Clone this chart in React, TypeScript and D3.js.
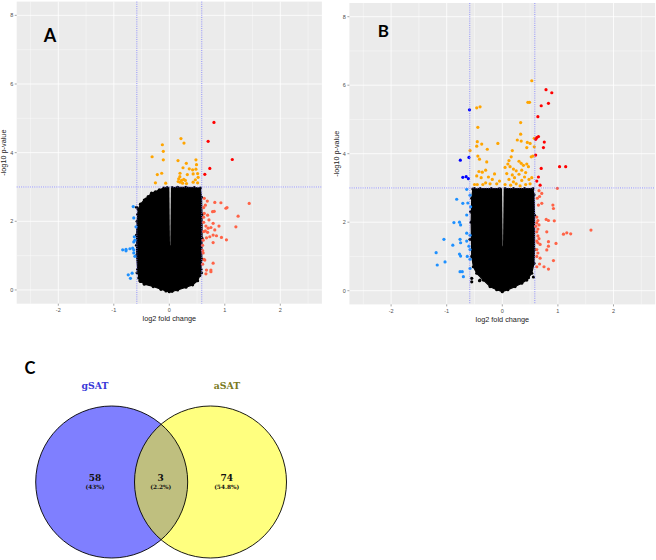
import React from "react";
import * as d3 from "d3";

type P = [number, number];

// ---------- axis ticks ----------
const xTicks = [-2, -1, 0, 1, 2];
const yTicks = [0, 2, 4, 6, 8];
const xMinor = [-2.5, -1.5, -0.5, 0.5, 1.5, 2.5];
const yMinor = [1, 3, 5, 7];
const fcCut = 0.585;
const pCut = 3;

// ---------- Panel A ----------
const aRed: P[] = [[0.805, 4.88], [0.70, 4.33], [1.135, 3.80], [0.73, 3.54], [0.64, 3.37]];
const aOrange: P[] = [
  [0.21, 4.41], [0.265, 4.28], [-0.125, 4.23], [-0.108, 4.04], [-0.31, 3.88], [-0.108, 3.79],
  [0.157, 3.77], [0.48, 3.79], [0.307, 3.69], [0.49, 3.65], [0.247, 3.56], [0.42, 3.50],
  [0.48, 3.52], [-0.137, 3.40], [-0.216, 3.36], [0.193, 3.40], [0.325, 3.36], [0.43, 3.38],
  [0.51, 3.39], [0.169, 3.24], [0.22, 3.19], [0.29, 3.19], [0.43, 3.14], [0.51, 3.12],
  [-0.25, 3.12], [-0.065, 3.11], [0.193, 3.14], [0.47, 3.21], [0.31, 3.10], [0.24, 3.11],
  [0.16, 3.16], [0.26, 3.22], [0.52, 3.28], [0.19, 3.30], [0.36, 3.53],
];
const aTomato: P[] = [
  [0.63, 2.67], [0.685, 2.59], [0.82, 2.55], [0.93, 2.54], [1.44, 2.52], [0.65, 2.47],
  [0.62, 2.40], [1.02, 2.38], [1.04, 2.40], [0.78, 2.28], [0.81, 2.29], [0.63, 2.23],
  [1.24, 2.15], [0.69, 2.18], [0.62, 2.12], [0.715, 2.04], [0.62, 1.97], [0.79, 1.94],
  [0.895, 1.86], [1.20, 1.84], [0.66, 1.86], [0.70, 1.80], [0.75, 1.82], [0.82, 1.75],
  [0.65, 1.72], [0.69, 1.68], [0.79, 1.60], [0.85, 1.58], [0.94, 1.53], [1.03, 1.46],
  [0.73, 1.55], [0.67, 1.52], [0.61, 1.45], [0.79, 1.38], [0.60, 1.30], [0.60, 1.15],
  [0.61, 1.08], [0.625, 0.89], [0.79, 0.78], [0.67, 0.58], [0.75, 0.58], [0.75, 0.53],
  [0.66, 0.47], [0.60, 0.75], [0.62, 1.70], [0.64, 0.87],
];
const aBlue: P[] = [
  [-0.65, 2.43], [-0.64, 2.10], [-0.60, 1.84], [-0.63, 1.55], [-0.62, 1.45], [-0.64, 1.40],
  [-0.84, 1.17], [-0.78, 1.18], [-0.78, 1.14], [-0.71, 1.20], [-0.66, 1.22], [-0.64, 1.17],
  [-0.64, 1.08], [-0.62, 0.98], [-0.74, 0.44], [-0.67, 0.49], [-0.70, 0.34],
];
const aDarkBlue: P[] = [];
// outline of the dense black cloud of non-significant genes
const aCloud: P[] = [
  [-0.56, 2.35], [-0.52, 2.5], [-0.45, 2.62], [-0.38, 2.72], [-0.32, 2.82], [-0.25, 2.86],
  [-0.18, 2.92], [-0.1, 2.97], [-0.04, 2.98], [0.0, 2.96], [0.05, 2.98], [0.15, 2.99],
  [0.3, 2.99], [0.45, 2.98], [0.56, 2.97], [0.58, 2.7], [0.59, 2.2], [0.59, 1.5],
  [0.585, 0.9], [0.57, 0.6], [0.55, 0.42], [0.51, 0.27], [0.42, 0.15], [0.3, 0.08],
  [0.15, 0.0], [0.05, -0.04], [0.0, -0.05], [-0.06, -0.03], [-0.15, 0.02], [-0.29, 0.1],
  [-0.45, 0.17], [-0.52, 0.25], [-0.55, 0.35], [-0.57, 0.6], [-0.59, 1.0], [-0.59, 1.6],
  [-0.58, 2.0], [-0.57, 2.2],
];
const aEdge: P[] = [
  [-0.59, 2.41], [-0.42, 2.65], [-0.41, 2.57], [-0.29, 2.77], [-0.11, 2.89], [-0.53, 0.27],
  [-0.5, 0.32], [0.32, 0.17], [0.40, 0.24], [-0.58, 0.5], [-0.59, 1.3], [0.58, 0.5],
];
const aSlit = { c: 0.015, w: 0.014, bottom: 1.3 };

// ---------- Panel B ----------
const bRed: P[] = [
  [0.786, 5.87], [0.89, 5.78], [0.83, 5.47], [0.70, 5.40], [0.64, 5.08], [0.65, 4.50],
  [0.62, 4.47], [0.60, 4.42], [0.755, 4.34], [0.74, 4.18], [0.60, 3.96], [0.70, 3.57],
  [1.03, 3.62], [1.14, 3.62], [0.65, 3.32], [0.62, 3.20], [0.68, 3.08],
];
const bDarkBlue: P[] = [[-0.59, 5.28], [-0.60, 3.89], [-0.755, 3.81], [-0.71, 3.31], [-0.65, 3.33], [-0.61, 3.27]];
const bOrange: P[] = [
  [0.53, 6.13], [0.46, 5.50], [0.49, 5.50], [-0.46, 5.34], [-0.40, 5.37], [0.33, 4.91],
  [-0.44, 4.77], [0.33, 4.57], [0.27, 4.40], [0.34, 4.37], [0.45, 4.33], [0.575, 4.45],
  [0.50, 4.30], [-0.45, 4.35], [-0.37, 4.28], [-0.46, 4.22], [-0.08, 4.30], [0.44, 4.18],
  [-0.27, 4.13], [0.18, 4.09], [0.575, 4.20], [0.55, 3.93], [0.52, 3.91], [-0.58, 4.09],
  [-0.44, 3.93], [-0.41, 3.84], [-0.28, 3.76], [0.16, 3.91], [0.12, 3.80], [0.10, 3.70],
  [0.05, 3.60], [0.14, 3.62], [0.20, 3.55], [0.30, 3.78], [0.34, 3.72], [0.38, 3.66],
  [0.44, 3.70], [0.47, 3.62], [0.25, 3.50], [0.35, 3.52], [0.42, 3.45], [0.30, 3.40],
  [0.40, 3.32], [0.18, 3.38], [0.08, 3.42], [0.22, 3.30], [0.12, 3.25], [0.35, 3.22],
  [0.48, 3.25], [0.53, 3.30], [-0.14, 3.41], [-0.42, 3.48], [-0.36, 3.46], [-0.30, 3.52],
  [-0.46, 3.35], [-0.38, 3.30], [-0.25, 3.32], [-0.18, 3.25], [-0.50, 3.10], [-0.45, 3.10],
  [-0.30, 3.15], [-0.22, 3.12], [-0.10, 3.12], [-0.05, 3.20], [0.05, 3.10], [0.15, 3.08],
  [0.25, 3.12], [0.32, 3.06], [0.42, 3.10], [0.50, 3.12], [0.20, 3.18], [-0.35, 3.10],
];
const bTomato: P[] = [
  [0.99, 2.99], [0.71, 2.84], [0.66, 2.92], [0.63, 2.70], [0.67, 2.75], [0.71, 2.55],
  [0.65, 2.50], [0.91, 2.50], [0.92, 2.40], [0.62, 2.15], [0.64, 2.05], [0.62, 1.98],
  [0.66, 1.92], [0.60, 1.88], [0.64, 1.80], [0.62, 1.72], [0.79, 2.08], [0.83, 2.05],
  [0.935, 2.04], [0.80, 1.72], [1.10, 1.65], [1.16, 1.69], [1.23, 1.66], [1.595, 1.77],
  [0.64, 1.60], [0.66, 1.52], [0.62, 1.45], [0.64, 1.40], [0.68, 1.35], [0.83, 1.43],
  [0.83, 1.30], [0.966, 1.38], [0.80, 1.19], [0.62, 1.20], [0.64, 1.10], [0.62, 1.00],
  [0.68, 0.95], [0.92, 0.88], [0.67, 0.78], [0.62, 0.70], [0.75, 0.70], [0.83, 0.63],
];
const bBlue: P[] = [
  [-0.64, 2.96], [-0.58, 2.79], [-0.82, 2.67], [-0.71, 2.55], [-0.62, 2.56], [-0.57, 2.45],
  [-0.64, 2.21], [-0.87, 1.99], [-0.77, 2.00], [-0.75, 1.92], [-0.64, 1.68], [-0.58, 1.62],
  [-1.05, 1.50], [-0.76, 1.50], [-0.75, 1.40], [-0.64, 1.45], [-0.89, 1.33], [-0.60, 1.30],
  [-0.58, 1.20], [-1.19, 1.11], [-0.77, 1.07], [-0.75, 1.01], [-0.63, 1.00], [-0.58, 0.92],
  [-1.03, 0.84], [-1.17, 0.75], [-0.58, 0.65], [-0.76, 0.555], [-0.72, 0.555], [-0.70, 0.41],
];
const bCloud: P[] = [
  [-0.53, 2.97], [-0.4, 2.98], [-0.2, 2.98], [-0.05, 2.98], [0.0, 2.96], [0.05, 2.98],
  [0.2, 2.98], [0.4, 2.98], [0.55, 2.98], [0.57, 2.8], [0.58, 2.2], [0.58, 1.2],
  [0.57, 0.8], [0.53, 0.51], [0.47, 0.38], [0.44, 0.31], [0.35, 0.22], [0.23, 0.12],
  [0.1, 0.03], [0.0, -0.03], [-0.1, 0.03], [-0.22, 0.12], [-0.34, 0.31], [-0.46, 0.51],
  [-0.52, 0.7], [-0.55, 1.0], [-0.56, 2.0], [-0.55, 2.7],
];
const bEdge: P[] = [
  [-0.55, 0.26], [-0.41, 0.29], [-0.55, 0.36], [-0.40, 0.31], [0.44, 0.36], [-0.58, 1.5],
  [-0.57, 2.3], [0.56, 0.4], [-0.5, 2.98], [0.3, 0.22],
];
const bSlit = { c: 0.01, w: 0.014, bottom: 1.3 };

// ---------- Venn ----------
const vennSets = ["gSAT", "aSAT"];
const vennCounts = ["58", "3", "74"];
const vennPercents = ["(43%)", "(2.2%)", "(54.8%)"];

const COLORS = {
  red: "#ff0000",
  orange: "#ffa500",
  tomato: "#ff6347",
  blue: "#1e90ff",
  darkBlue: "#0000ff",
};

type PanelProps = {
  x0: number; x1: number; yb: number; yt: number;
  red: P[]; orange: P[]; tomato: P[]; blue: P[]; darkBlue: P[];
  cloud: P[]; edge: P[]; slit: { c: number; w: number; bottom: number };
  letter: string; letterX: number; letterY: number; letterSize: number;
  yLabelX: number;
};

function Volcano(p: PanelProps) {
  const x = d3.scaleLinear().domain([-2.75, 2.75]).range([p.x0, p.x1]);
  const y = d3.scaleLinear().domain([-0.4, 8.4]).range([p.yb, p.yt]);
  const line = d3.line<P>().x((d) => x(d[0])).y((d) => y(d[1])).curve(d3.curveLinearClosed);
  const slitPoly: P[] = [
    [p.slit.c - p.slit.w, 3.0], [p.slit.c + p.slit.w, 3.0],
    [p.slit.c + 0.002, p.slit.bottom], [p.slit.c - 0.002, p.slit.bottom],
  ];
  const r = 1.6;
  const dots = (arr: P[], fill: string, key: string) =>
    arr.map((d, i) => <circle key={key + i} cx={x(d[0])} cy={y(d[1])} r={r} fill={fill} />);
  const tickFont = { fontFamily: "Liberation Sans, Arial, sans-serif", fontSize: 5.5, fill: "#4d4d4d" };
  return (
    <g>
      <rect x={p.x0} y={p.yt} width={p.x1 - p.x0} height={p.yb - p.yt} fill="#ebebeb" />
      {xMinor.map((v) => (
        <line key={"xm" + v} x1={x(v)} x2={x(v)} y1={p.yt} y2={p.yb} stroke="#fff" strokeWidth={0.4} />
      ))}
      {yMinor.map((v) => (
        <line key={"ym" + v} x1={p.x0} x2={p.x1} y1={y(v)} y2={y(v)} stroke="#fff" strokeWidth={0.4} />
      ))}
      {xTicks.map((v) => (
        <line key={"xM" + v} x1={x(v)} x2={x(v)} y1={p.yt} y2={p.yb} stroke="#fff" strokeWidth={0.8} />
      ))}
      {yTicks.map((v) => (
        <line key={"yM" + v} x1={p.x0} x2={p.x1} y1={y(v)} y2={y(v)} stroke="#fff" strokeWidth={0.8} />
      ))}
      {/* black cloud */}
      <path d={line(p.cloud) || ""} fill="#000" stroke="#000" strokeWidth={1.2} strokeLinejoin="round" />
      {dots(p.cloud, "#000", "cv")}
      {dots(p.edge, "#000", "ed")}
      <path d={line(slitPoly) || ""} fill="#e6e6e6" />
      {dots(p.tomato, COLORS.tomato, "t")}
      {dots(p.blue, COLORS.blue, "b")}
      {dots(p.orange, COLORS.orange, "o")}
      {dots(p.red, COLORS.red, "r")}
      {dots(p.darkBlue, COLORS.darkBlue, "db")}
      {/* thresholds */}
      {[-fcCut, fcCut].map((v) => (
        <line key={"v" + v} x1={x(v)} x2={x(v)} y1={p.yt} y2={p.yb} stroke="#7a7aff" strokeWidth={0.8} strokeDasharray="1,1.2" />
      ))}
      <line x1={p.x0} x2={p.x1} y1={y(pCut)} y2={y(pCut)} stroke="#7a7aff" strokeWidth={0.8} strokeDasharray="1,1.2" />
      {/* axes ticks */}
      {xTicks.map((v) => (
        <g key={"xt" + v}>
          <line x1={x(v)} x2={x(v)} y1={p.yb} y2={p.yb + 2} stroke="#4d4d4d" strokeWidth={0.5} />
          <text x={x(v)} y={p.yb + 8.5} textAnchor="middle" {...tickFont}>{v}</text>
        </g>
      ))}
      {yTicks.map((v) => (
        <g key={"yt" + v}>
          <line x1={p.x0 - 2} x2={p.x0} y1={y(v)} y2={y(v)} stroke="#4d4d4d" strokeWidth={0.5} />
          <text x={p.x0 - 3.5} y={y(v) + 2} textAnchor="end" {...tickFont}>{v}</text>
        </g>
      ))}
      <text x={(p.x0 + p.x1) / 2} y={p.yb + 17.5} textAnchor="middle"
        style={{ fontFamily: "Liberation Sans, Arial, sans-serif", fontSize: 7.3, fill: "#222" }}>
        log2 fold change
      </text>
      <text transform={`translate(${p.yLabelX},${(p.yt + p.yb) / 2}) rotate(-90)`} textAnchor="middle"
        style={{ fontFamily: "Liberation Sans, Arial, sans-serif", fontSize: 7.3, fill: "#222" }}>
        -log10  p-value
      </text>
      <text x={p.letterX} y={p.letterY} textAnchor="middle"
        style={{ fontFamily: "Lato, Open Sans, sans-serif", fontWeight: 700, fontSize: p.letterSize, fill: "#000" }}>
        {p.letter}
      </text>
    </g>
  );
}

function Venn() {
  const cy = 482;
  const r = 76;
  const cxs = [111.7, 210.5];
  const fills = ["#0000ff", "#ffff00"];
  const textCx = [95, 160.7, 226.7];
  return (
    <g>
      <text x={30} y={373.5} textAnchor="middle"
        style={{ fontFamily: "Lato, Open Sans, sans-serif", fontWeight: 700, fontSize: 16.5, fill: "#000" }}>C</text>
      <circle cx={cxs[0]} cy={cy} r={r} fill={fills[0]} fillOpacity={0.5} />
      <circle cx={cxs[1]} cy={cy} r={r} fill={fills[1]} fillOpacity={0.5} />
      <circle cx={cxs[0]} cy={cy} r={r} fill="none" stroke="#000" strokeWidth={0.9} />
      <circle cx={cxs[1]} cy={cy} r={r} fill="none" stroke="#000" strokeWidth={0.9} />
      <text x={95} y={388.5} textAnchor="middle"
        style={{ fontFamily: "DejaVu Serif, serif", fontWeight: 700, fontSize: 9.3, fill: "#3838d8" }}>{vennSets[0]}</text>
      <text x={227} y={388.5} textAnchor="middle"
        style={{ fontFamily: "DejaVu Serif, serif", fontWeight: 700, fontSize: 9.3, fill: "#7a7a1e" }}>{vennSets[1]}</text>
      {vennCounts.map((c, i) => (
        <g key={"vc" + i}>
          <text x={textCx[i]} y={481} textAnchor="middle"
            style={{ fontFamily: "DejaVu Serif, serif", fontWeight: 700, fontSize: 9, fill: "#111" }}>{c}</text>
          <text x={textCx[i]} y={488.5} textAnchor="middle"
            style={{ fontFamily: "DejaVu Serif, serif", fontWeight: 700, fontSize: 5.8, fill: "#111" }}>{vennPercents[i]}</text>
        </g>
      ))}
    </g>
  );
}

export default function App() {
  return (
    <svg width={656} height={560} style={{ position: "absolute", left: 0, top: 0, background: "#fff" }}>
      <rect width={656} height={560} fill="#fff" />
      <Volcano x0={16.7} x1={321.9} yb={303.7} yt={1.6}
        red={aRed} orange={aOrange} tomato={aTomato} blue={aBlue} darkBlue={aDarkBlue}
        cloud={aCloud} edge={aEdge} slit={aSlit}
        letter="A" letterX={50} letterY={41.5} letterSize={18} yLabelX={6} />
      <Volcano x0={349.4} x1={655.2} yb={304.4} yt={3.0}
        red={bRed} orange={bOrange} tomato={bTomato} blue={bBlue} darkBlue={bDarkBlue}
        cloud={bCloud} edge={bEdge} slit={bSlit}
        letter="B" letterX={383.3} letterY={37} letterSize={17} yLabelX={339} />
      <Venn />
    </svg>
  );
}
